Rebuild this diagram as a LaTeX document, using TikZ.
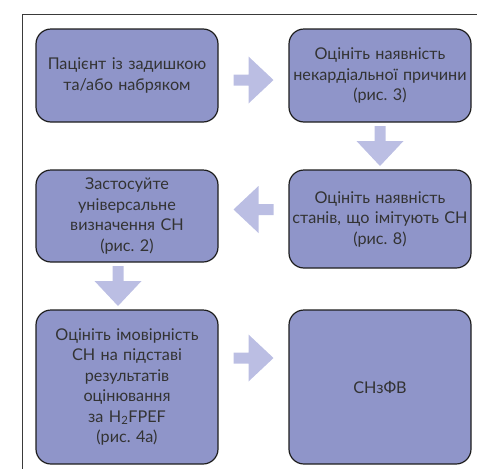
\documentclass[tikz,border=0pt]{standalone}
\usepackage{fontspec}
\setmainfont{Lato}
\usetikzlibrary{calc}
\definecolor{boxfill}{HTML}{8F95C9}
\definecolor{arrowfill}{HTML}{BBBEE3}
\definecolor{boxline}{HTML}{1E1E1E}
\definecolor{txt}{HTML}{333333}
\definecolor{framec}{HTML}{3A3A3A}
\frenchspacing
\tikzset{
  flowbox/.style={draw=boxline, line width=1.2pt, fill=boxfill, rounded corners=15pt,
    minimum width=182pt, text width=178pt, align=center, inner sep=0pt,
    text=txt, font=\fontsize{16.2}{20.5}\selectfont},
  blockarrow/.pic={\fill[arrowfill] (-20,-5.5) -- (-5,-5.5) -- (-5,-23.5) -- (20,0) -- (-5,23.5) -- (-5,5.5) -- (-20,5.5) -- cycle;}
}
\begin{document}
\begin{tikzpicture}[x=1pt,y=-1pt]
\useasboundingbox (0,0) rectangle (477,469);
\draw[framec, line width=1pt] (477,14) -- (22,14) -- (22,469);
\node[flowbox, minimum height=93pt] (b1) at (127,75.5) {Пацієнт із задишкою\\та/або набряком};
\node[flowbox, minimum height=93pt] (b2) at (380,75.5) {Оцініть наявність\\некардіальної причини\\(рис. 3)};
\node[flowbox, minimum height=92pt] (b3) at (127,216) {Застосуйте\\універсальне\\визначення СН\\(рис. 2)};
\node[flowbox, minimum height=98pt] (b4) at (380,219) {Оцініть наявність\\станів, що імітують СН\\(рис. 8)};
\node[flowbox, minimum height=154pt] (b5) at (127,387) {Оцініть імовірність\\СН на підставі\\результатів\\оцінювання\\за H\textsubscript{2}FPEF\\(рис. 4а)};
\node[flowbox, minimum height=154pt] (b6) at (380,387) {СНзФВ};
\coordinate (a1) at ($(b1.east)!0.5!(b2.west)+(0,4.5)$);
\coordinate (a2) at ($(b2.south)!0.5!(b4.north)$);
\coordinate (a3) at ($(b4.west)!0.5!(b3.east)+(0,-8)$);
\coordinate (a4) at ($(b3.south)!0.5!(b5.north)+(-9,0)$);
\coordinate (a5) at ($(b5.east)!0.5!(b6.west)+(0,-29)$);
\pic at (a1) {blockarrow};
\pic[rotate=-90] at (a2) {blockarrow};
\pic[rotate=180] at (a3) {blockarrow};
\pic[rotate=-90] at (a4) {blockarrow};
\pic at (a5) {blockarrow};
\end{tikzpicture}
\end{document}
